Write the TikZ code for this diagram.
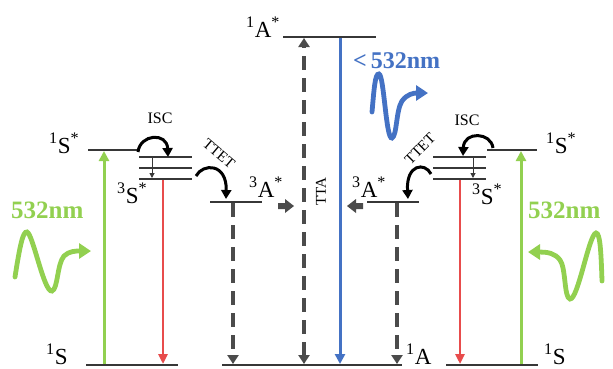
\documentclass[tikz,border=0pt]{standalone}
\usepackage{fontspec}
\setmainfont{Liberation Serif}
\usetikzlibrary{arrows.meta}
\definecolor{lvl}{RGB}{55,55,55}
\definecolor{dsh}{RGB}{75,75,75}
\definecolor{grn}{RGB}{146,208,80}
\definecolor{rdd}{RGB}{232,76,76}
\definecolor{blu}{RGB}{68,114,196}
\begin{document}
\begin{tikzpicture}[x=1pt,y=-1pt,
  level/.style={draw=lvl,line width=2.8pt},
  thinlevel/.style={draw=lvl,line width=2.4pt},
  lbl/.style={inner sep=0pt,anchor=base west,font=\fontsize{23}{23}\selectfont},
  nm/.style={inner sep=0pt,font=\fontsize{25}{25}\selectfont\bfseries},
  small/.style={inner sep=0pt,font=\fontsize{16}{16}\selectfont},
  greenarrow/.style={draw=grn,line width=3pt,-{Triangle[width=10pt,length=10pt]}},
  redarrow/.style={draw=rdd,line width=2.8pt,-{Triangle[width=9pt,length=10pt]}},
  bluearrow/.style={draw=blu,line width=3pt,-{Triangle[width=10pt,length=10pt]}},
  dasharrow/.style={draw=dsh,line width=3.2pt,dash pattern=on 14pt off 8pt,-{Triangle[width=11pt,length=9pt]}},
  tinyarrow/.style={draw=lvl,line width=1pt,-{Triangle[width=5pt,length=5pt]}},
  curlarrow/.style={draw=black,line width=3pt,-{Triangle[width=10pt,length=9pt]}},
  wave/.style={line width=4.8pt,line cap=round},
  block/.style={fill=dsh,draw=none}]
\useasboundingbox (0,0) rectangle (613,368);

% ---------- level coordinates ----------
\coordinate (gLa) at (86,365);  \coordinate (gLb) at (178,365);
\coordinate (gCa) at (222,365); \coordinate (gCb) at (402,365);
\coordinate (gRa) at (446,365); \coordinate (gRb) at (538,365);
\coordinate (sLa) at (88,150);  \coordinate (sLb) at (138,150);
\coordinate (sRa) at (487,150); \coordinate (sRb) at (537,150);
\coordinate (tL1a) at (139,157); \coordinate (tL1b) at (192,157);
\coordinate (tL2a) at (139,168); \coordinate (tL2b) at (192,168);
\coordinate (tL3a) at (139,179); \coordinate (tL3b) at (192,179);
\coordinate (tR1a) at (433,157); \coordinate (tR1b) at (486,157);
\coordinate (tR2a) at (433,168); \coordinate (tR2b) at (486,168);
\coordinate (tR3a) at (433,179); \coordinate (tR3b) at (486,179);
\coordinate (aTa) at (283,37);  \coordinate (aTb) at (376,37);
\coordinate (aLa) at (210,202); \coordinate (aLb) at (262,202);
\coordinate (aRa) at (367,202); \coordinate (aRb) at (419,202);

\draw[level] (gLa) -- (gLb);
\draw[level] (gCa) -- (gCb);
\draw[level] (gRa) -- (gRb);
\draw[thinlevel] (sLa) -- (sLb);
\draw[thinlevel] (sRa) -- (sRb);
\foreach \n in {tL1,tL2,tL3,tR1,tR2,tR3} {\draw[thinlevel] (\n a) -- (\n b);}
\draw[level] (aTa) -- (aTb);
\draw[level] (aLa) -- (aLb);
\draw[level] (aRa) -- (aRb);

% ---------- vertical transitions ----------
\coordinate (gLup0) at (104,364); \coordinate (gLup1) at (104,151);
\coordinate (gRup0) at (521,364); \coordinate (gRup1) at (521,151);
\draw[greenarrow] (gLup0) -- (gLup1);
\draw[greenarrow] (gRup0) -- (gRup1);

\coordinate (rL0) at (163,180); \coordinate (rL1) at (163,364);
\coordinate (rR0) at (460,180); \coordinate (rR1) at (460,364);
\draw[redarrow] (rL0) -- (rL1);
\draw[redarrow] (rR0) -- (rR1);

\coordinate (iL0) at (152,158); \coordinate (iL1) at (152,178);
\coordinate (iR0) at (473,158); \coordinate (iR1) at (473,178);
\draw[tinyarrow] (iL0) -- (iL1);
\draw[tinyarrow] (iR0) -- (iR1);

\coordinate (dL0) at (233,203); \coordinate (dL1) at (233,364);
\coordinate (dC0) at (304,364); \coordinate (dC1) at (304,38);
\coordinate (dR0) at (397,203); \coordinate (dR1) at (397,364);
\draw[dasharrow] (dL0) -- (dL1);
\draw[dasharrow,{Triangle[width=11pt,length=9pt]}-{Triangle[width=11pt,length=9pt]}] (dC0) -- (dC1);
\draw[dasharrow] (dR0) -- (dR1);

\coordinate (b0) at (340,38); \coordinate (b1) at (340,364);
\draw[bluearrow] (b0) -- (b1);

% ---------- curled arrows ----------
\coordinate (cL1s) at (138,152); \coordinate (cL1e) at (168,157);
\draw[curlarrow] (cL1s) .. controls (140,134) and (167,132) .. (cL1e);
\coordinate (cL2s) at (196,176); \coordinate (cL2e) at (226,199);
\draw[curlarrow] (cL2s) .. controls (203,163) and (227,163) .. (cL2e);
\coordinate (cR1s) at (493,148); \coordinate (cR1e) at (463,156);
\draw[curlarrow] (cR1s) .. controls (491,132) and (464,131) .. (cR1e);
\coordinate (cR2s) at (431,174); \coordinate (cR2e) at (408,199);
\draw[curlarrow] (cR2s) .. controls (425,162) and (406,164) .. (cR2e);

% ---------- block arrows ----------
\fill[block] (278,203) -- (285,203) -- (285,199) -- (294,206) -- (285,213) -- (285,209) -- (278,209) -- cycle;
\fill[block] (363,203) -- (356,203) -- (356,199) -- (347,206) -- (356,213) -- (356,209) -- (363,209) -- cycle;

% ---------- waves ----------
\draw[wave,draw=grn,-{Triangle[width=15pt,length=12pt,fill=grn]}]
  (15,277) .. controls (20,245) and (23,231) .. (27,232)
  .. controls (33,234) and (44,293) .. (52,291)
  .. controls (58,289) and (57,264) .. (64,256)
  .. controls (69,251) and (76,251) .. (91,251);
\draw[wave,draw=grn,-{Triangle[width=15pt,length=12pt,fill=grn]}]
  (602,281) .. controls (601,250) and (600,233) .. (596,233)
  .. controls (589,234) and (578,300) .. (570,299)
  .. controls (564,298) and (566,268) .. (560,260)
  .. controls (555,253) and (547,252) .. (528,252);
\draw[wave,draw=blu,-{Triangle[width=15pt,length=12pt,fill=blu]}]
  (372,112) .. controls (374,90) and (375,73) .. (379,74)
  .. controls (384,75) and (386,140) .. (392,138)
  .. controls (397,136) and (396,110) .. (402,101)
  .. controls (407,94) and (414,93) .. (428,93);

% ---------- labels ----------
\node[lbl] (L1Sx) at (49,153) {\textsuperscript{1}S\textsuperscript{*}};
\node[lbl] (L3Sx) at (117,203) {\textsuperscript{3}S\textsuperscript{*}};
\node[lbl] (L1S) at (46,364) {\textsuperscript{1}S};
\node[lbl] (T1Ax) at (246,37) {\textsuperscript{1}A\textsuperscript{*}};
\node[lbl] (L3Ax) at (249,197) {\textsuperscript{3}A\textsuperscript{*}};
\node[lbl] (R3Ax) at (352,197) {\textsuperscript{3}A\textsuperscript{*}};
\node[lbl] (C1A) at (406,364) {\textsuperscript{1}A};
\node[lbl] (R1Sx) at (546,153) {\textsuperscript{1}S\textsuperscript{*}};
\node[lbl] (R3Sx) at (472,204) {\textsuperscript{3}S\textsuperscript{*}};
\node[lbl] (R1S) at (544,364) {\textsuperscript{1}S};

\node[small] (iscL) at (160,118) {ISC};
\node[small] (iscR) at (467,120) {ISC};
\node[small,font=\fontsize{15}{15}\selectfont,rotate=-40] (ttetL) at (219,154) {TTET};
\node[small,font=\fontsize{15}{15}\selectfont,rotate=45] (ttetR) at (420,149) {TTET};
\node[small,font=\fontsize{15}{15}\selectfont,rotate=90] (tta) at (321,192) {TTA};

\node[nm,text=grn,anchor=base west] (nmL) at (11,218) {532nm};
\node[nm,text=grn,anchor=base west] (nmR) at (528,218) {532nm};
\node[nm,text=blu,anchor=base west,font=\fontsize{24}{24}\selectfont\bfseries] (nmB) at (353,68) {<\,532nm};
\end{tikzpicture}
\end{document}
